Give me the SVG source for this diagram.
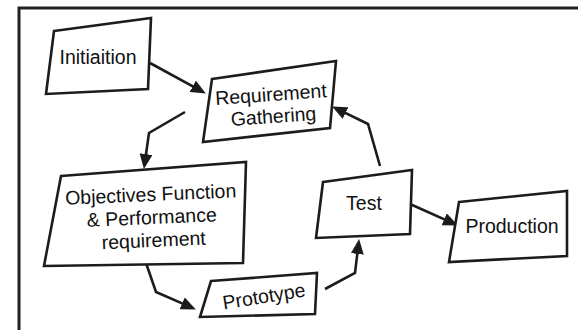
<svg xmlns="http://www.w3.org/2000/svg" width="578" height="330" viewBox="0 0 578 330">
  <style>
    .frame { fill: none; stroke: #222; stroke-width: 3; }
    .box { fill: #fff; stroke: #1c1c1c; stroke-width: 2.6; stroke-linejoin: miter; }
    .lbl { font-family: "Liberation Sans", Arial, sans-serif; font-size: 19.5px; fill: #111; text-anchor: middle; }
    .edge { fill: none; stroke: #1c1c1c; stroke-width: 2.6; stroke-linejoin: miter; marker-end: url(#head); }
  </style>
  <defs>
    <marker id="head" markerUnits="userSpaceOnUse" markerWidth="15" markerHeight="13" refX="10" refY="6.5" orient="auto">
      <path d="M0,0 L15,6.5 L0,13 z" fill="#1c1c1c"/>
    </marker>
  </defs>

  <!-- outer frame, running off the right and bottom edges -->
  <path class="frame" d="M19,332 L19,8 L580,8"/>

  <g id="connectors">
    <polyline class="edge" points="150,63 201.5,91.1"/>
    <polyline class="edge" points="185,112 149,133 144.6,164"/>
    <polyline class="edge" points="146,263 156,292 191.3,307.4"/>
    <polyline class="edge" points="325,289 355,273 358.5,244"/>
    <polyline class="edge" points="380,166 368,124 336.6,108.7"/>
    <polyline class="edge" points="410,204 453.3,223.4"/>
  </g>

  <g id="initiation">
    <polygon class="box" points="54,31 151,18 148,89 46,94"/>
    <text class="lbl" x="98" y="64">Initiaition</text>
  </g>

  <g id="requirement-gathering">
    <polygon class="box" points="212,79 336,61 330,128 203,142"/>
    <g transform="rotate(-4 272 110)">
      <text class="lbl" x="272" y="101">Requirement</text>
      <text class="lbl" x="273" y="123">Gathering</text>
    </g>
  </g>

  <g id="objectives">
    <polygon class="box" points="61,176 246,162 243,263 44,266"/>
    <g transform="rotate(-2.5 152 224)">
      <text class="lbl" x="152" y="201">Objectives Function</text>
      <text class="lbl" x="152" y="224">&amp; Performance</text>
      <text class="lbl" x="153" y="247">requirement</text>
    </g>
  </g>

  <g id="prototype">
    <polygon class="box" points="211,281 317,273 315,314 200,317"/>
    <text class="lbl" x="264" y="303" transform="rotate(-9 264 297)">Prototype</text>
  </g>

  <g id="test">
    <polygon class="box" points="323,182 412,170 410,234 316,238"/>
    <text class="lbl" x="364" y="210">Test</text>
  </g>

  <g id="production">
    <polygon class="box" points="459,202 567,191 567,256 449,262"/>
    <text class="lbl" x="512" y="233">Production</text>
  </g>
</svg>
